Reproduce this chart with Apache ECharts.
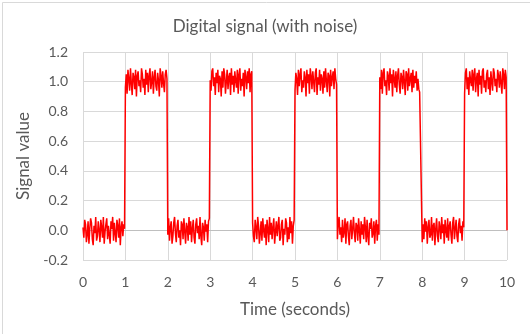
<!DOCTYPE html>
<html>
<head>
<meta charset="utf-8">
<script src="https://cdn.jsdelivr.net/npm/echarts@6/dist/echarts.min.js"></script>
<style>html,body{margin:0;padding:0;background:#fff}#c{width:530px;height:334px}</style>
</head>
<body>
<div id="c"></div>
<script>
const xTicks = [0,1,2,3,4,5,6,7,8,9,10];
const yTicks = ['-0.2','0.0','0.2','0.4','0.6','0.8','1.0','1.2'];
// one array of noisy samples per one-second segment (0-1 s, 1-2 s, ...)
const seg0 = [0.02,-0.05,0.07,0.04,-0.08,-0.03,0.06,-0.09,0.01,0.08,0.05,-0.06,-0.10,0.03,-0.02,0.09,-0.07,-0.04,0.06,0.00,-0.08,0.07,0.02,-0.05,0.09,-0.09,-0.01,0.04,0.08,-0.06,0.03,-0.03,-0.09,0.06,0.01,0.09,-0.07,0.05,-0.02,-0.08,0.07,0.03,-0.05,0.08,-0.10,0.02,0.06,-0.04,0.04,0.01];
const seg1 = [0.96,1.05,0.92,1.08,1.02,0.94,1.09,0.99,0.91,1.06,1.03,0.95,1.08,0.90,1.04,1.07,0.97,1.01,0.93,1.09,1.05,0.96,1.02,0.91,1.08,0.98,1.06,0.93,1.04,1.09,0.95,1.00,1.07,0.92,1.03,1.08,0.97,0.94,1.06,1.01,0.90,1.09,1.04,0.96,1.07,0.99,0.93,1.05,1.08,1.02];
const seg2 = [-0.03,0.08,-0.07,0.02,0.06,-0.09,-0.04,0.05,0.09,-0.02,-0.08,0.03,0.07,-0.05,0.00,-0.10,0.06,0.04,-0.06,0.08,-0.01,-0.09,0.05,0.02,-0.07,0.09,-0.03,0.06,-0.08,0.01,0.07,-0.05,-0.09,0.04,0.08,-0.02,0.03,-0.06,0.09,-0.04,-0.10,0.05,0.02,-0.07,0.07,-0.01,0.04,-0.08,0.06,0.08];
const seg3 = [1.01,0.94,1.07,1.09,0.97,1.03,0.91,1.06,0.99,1.08,0.93,1.04,1.02,0.90,1.07,0.96,1.09,1.05,0.92,1.00,1.08,0.95,1.03,1.06,0.91,1.09,0.98,1.04,0.93,1.07,1.01,0.96,1.08,0.92,1.05,1.09,0.94,1.02,0.97,1.06,0.90,1.08,1.03,0.95,1.07,0.99,1.09,0.93,1.05,1.07];
const seg4 = [0.05,-0.04,-0.08,0.07,0.02,-0.06,0.09,0.03,-0.09,-0.02,0.06,-0.07,0.08,0.00,-0.05,0.04,-0.10,0.07,0.01,-0.08,0.09,-0.03,0.05,-0.06,0.02,0.08,-0.09,-0.01,0.06,-0.04,0.03,0.09,-0.07,-0.05,0.04,0.07,-0.10,0.01,-0.03,0.08,0.05,-0.08,0.02,-0.06,0.09,-0.02,0.06,-0.09,0.03,0.07];
const seg5 = [0.94,1.06,1.02,0.91,1.08,0.97,1.05,1.09,0.93,1.01,0.96,1.07,1.03,0.90,1.08,0.99,1.05,0.92,1.09,1.04,0.95,1.07,1.00,0.93,1.06,1.09,0.91,1.03,0.98,1.08,0.94,1.05,1.02,0.92,1.07,0.96,1.09,1.01,0.93,1.06,1.04,0.90,1.08,0.97,1.03,1.07,0.95,1.09,1.02,0.98];
const seg6 = [-0.06,0.05,0.09,-0.03,0.02,-0.08,0.07,-0.05,-0.01,0.08,-0.09,0.04,0.06,-0.04,-0.10,0.03,0.07,-0.06,0.01,0.09,-0.02,-0.08,0.05,0.03,-0.07,0.08,0.00,-0.09,0.06,-0.03,0.04,-0.06,0.09,0.02,-0.08,0.07,-0.04,-0.10,0.05,0.01,0.08,-0.05,-0.02,0.06,-0.09,0.03,0.07,-0.07,0.04,-0.03];
const seg7 = [1.03,0.95,1.08,0.92,1.06,1.09,0.97,1.01,0.91,1.07,1.04,0.94,1.09,0.99,1.05,0.90,1.08,1.02,0.96,1.07,0.93,1.04,1.09,0.98,0.92,1.06,1.03,0.95,1.08,1.00,0.91,1.07,1.05,0.94,1.09,0.97,1.02,1.06,0.93,1.08,0.96,1.04,0.99,1.07,0.94,1.02,0.95,0.93,0.94,0.92];
const seg8 = [-0.08,0.04,-0.06,0.08,-0.01,0.06,-0.09,0.02,0.07,-0.05,-0.03,0.09,-0.07,0.03,0.05,-0.10,0.01,0.08,-0.04,-0.08,0.06,0.02,-0.06,0.09,-0.02,0.04,-0.09,0.07,0.00,-0.05,0.08,-0.07,0.03,0.06,-0.03,-0.09,0.05,0.09,-0.06,0.01,0.07,-0.04,-0.08,0.04,0.08,-0.02,0.03,-0.07,0.06,0.02];
const seg9 = [0.92,1.06,1.09,0.95,1.03,0.91,1.07,1.01,0.97,1.08,0.94,1.05,1.09,0.93,1.02,1.06,0.90,1.08,0.98,1.04,0.92,1.07,1.09,0.96,1.01,0.93,1.05,1.08,0.95,1.03,0.91,1.07,1.00,0.94,1.09,1.06,0.97,1.02,0.93,1.08,1.04,0.96,1.07,0.99,0.92,1.09,1.05,0.95,1.08,1.03];
const finalSample = [10, 0.00];
const segments = [seg0,seg1,seg2,seg3,seg4,seg5,seg6,seg7,seg8,seg9];

// sample times: each segment's samples are evenly spaced within its one-second interval
const points = [];
segments.forEach((seg, k) => seg.forEach((v, j) => points.push([k + j / seg.length, v])));
points.push(finalSample);

const FONT = 'Lato';
const TXT = '#595959';
const chart = echarts.init(document.getElementById('c'), null, {renderer:'canvas'});
chart.setOption({
  animation: false,
  backgroundColor: '#ffffff',
  textStyle: {fontFamily: FONT},
  title: {
    text: 'Digital signal (with noise)',
    left: 'center', top: 13,
    textStyle: {fontFamily: FONT, fontSize: 17, fontWeight: 'normal', color: TXT}
  },
  graphic: [{
    type: 'rect', left: 0, top: 0, silent: true,
    shape: {x: 0.5, y: 0.5, width: 528, height: 332},
    style: {fill: 'none', stroke: '#d9d9d9', lineWidth: 1}
  }],
  grid: {left: 83, right: 23, top: 52, bottom: 74},
  xAxis: {
    type: 'value', min: 0, max: 10, interval: 1,
    name: 'Time (seconds)', nameLocation: 'middle', nameGap: 41,
    nameTextStyle: {fontFamily: FONT, fontSize: 17, color: TXT},
    axisLine: {show: false}, axisTick: {show: false},
    axisLabel: {color: TXT, fontSize: 14, fontFamily: FONT, margin: 15,
      formatter: v => xTicks.includes(v) ? String(v) : ''},
    splitLine: {show: true, lineStyle: {color: '#d9d9d9', width: 1}}
  },
  yAxis: {
    type: 'value', min: -0.2, max: 1.2, interval: 0.2,
    name: 'Signal value', nameLocation: 'middle', nameGap: 45,
    nameTextStyle: {fontFamily: FONT, fontSize: 17, color: TXT},
    axisLine: {show: false}, axisTick: {show: false},
    axisLabel: {color: TXT, fontSize: 14, fontFamily: FONT, margin: 15,
      formatter: v => { let s = v.toFixed(1); if (s === '-0.0') s = '0.0'; return yTicks.includes(s) ? s : ''; }},
    splitLine: {show: true, lineStyle: {color: '#d9d9d9', width: 1}}
  },
  series: [{
    type: 'line',
    data: points,
    showSymbol: false,
    symbol: 'none',
    lineStyle: {color: '#ff0000', width: 1.5},
    itemStyle: {color: '#ff0000'},
    z: 3,
    markLine: {
      silent: true, symbol: ['none','none'], label: {show: false},
      lineStyle: {color: '#bfbfbf', width: 1, type: 'solid'},
      data: [{yAxis: 0}],
      z: 1
    }
  }]
});
</script>
</body>
</html>
